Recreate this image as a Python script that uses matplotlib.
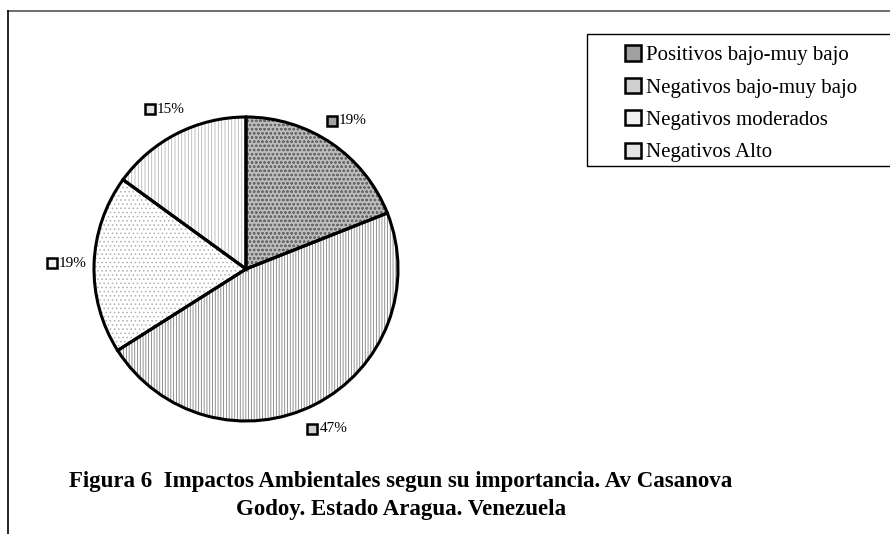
import matplotlib.pyplot as plt
from matplotlib.patches import Patch, Rectangle
from matplotlib.lines import Line2D
from matplotlib.transforms import offset_copy

# data
categories = ["Positivos bajo-muy bajo", "Negativos bajo-muy bajo",
              "Negativos moderados", "Negativos Alto"]
values = [19, 47, 19, 15]
pct_labels = ["19%", "47%", "19%", "15%"]

# fill styles per slice
faces = ["#bdbdbd", "#ffffff", "#ffffff", "#ffffff"]
hatch_cols = ["#6a6a6a", "#808080", "#b0b0b0", "#b8b8b8"]
hatches = ["oooo", "||||||", "....", "|||||"]
key_faces = ["#a0a0a0", "#d0d0d0", "#f0f0f0", "#e4e4e4"]

plt.rcParams["font.family"] = ["Liberation Serif", "DejaVu Serif"]
plt.rcParams["hatch.linewidth"] = 0.6

W, H = 890, 534
fig = plt.figure(figsize=(W / 100, H / 100), dpi=100)
fig.patch.set_facecolor("white")

# pie axes: centre ~ (246, 269) px, radius ~152 px
cx, cy, r = 246, 269, 152
ax = fig.add_axes([(cx - r) / W, (H - cy - r) / H, 2 * r / W, 2 * r / H])
ax.axis("off")

# hatched fill (hatch colour follows edgecolor, so outlines drawn separately)
wedges, texts = ax.pie(values, startangle=90, counterclock=False, radius=1,
                       labels=pct_labels, labeldistance=1.18,
                       textprops=dict(fontsize=11, ha="center", va="center"))
for w, fc, hc, h in zip(wedges, faces, hatch_cols, hatches):
    w.set_facecolor(fc)
    w.set_edgecolor(hc)
    w.set_hatch(h)
    w.set_linewidth(0)

# black outlines
ax.pie(values, startangle=90, counterclock=False, radius=1,
       wedgeprops=dict(fill=False, edgecolor="black", linewidth=2.2))
ax.set_xlim(-1, 1)
ax.set_ylim(-1, 1)
ax.set_aspect("equal")

# shift label text right so marker + text is centred, add square keys
for t, kf in zip(texts, key_faces):
    x, y = t.get_position()
    t.set_transform(offset_copy(ax.transData, fig=fig, x=6, y=0, units="dots"))
    tr = offset_copy(ax.transData, fig=fig, x=-15, y=0, units="dots")
    ax.plot(x, y, marker="s", markersize=7, markerfacecolor=kf,
            markeredgecolor="black", markeredgewidth=1.8,
            transform=tr, clip_on=False)

# legend
handles = [Patch(facecolor=kf, edgecolor="black", linewidth=1.8) for kf in key_faces]
leg = fig.legend(handles, categories, loc="upper left",
                 bbox_to_anchor=(617 / W, 1 - 37 / H), frameon=False,
                 fontsize=15, handlelength=0.75, handleheight=0.75,
                 handletextpad=0.25, labelspacing=0.6, borderaxespad=0)
fig.add_artist(Rectangle((587 / W, 1 - 166 / H), (W + 10 - 587) / W, 132 / H,
                         transform=fig.transFigure, fill=False,
                         edgecolor="black", linewidth=1.0, clip_on=False))

# outer frame (top and left only)
fig.add_artist(Line2D([8 / W, 1], [1 - 11 / H, 1 - 11 / H],
                      transform=fig.transFigure, color="#555555", linewidth=1.2))
fig.add_artist(Line2D([8 / W, 8 / W], [0, 1 - 11 / H],
                      transform=fig.transFigure, color="black", linewidth=1.2))

# caption
fig.text(401 / W, 1 - 481 / H,
         "Figura 6  Impactos Ambientales segun su importancia. Av Casanova",
         ha="center", va="center", fontsize=16.5, fontweight="bold")
fig.text(401 / W, 1 - 510 / H, "Godoy. Estado Aragua. Venezuela",
         ha="center", va="center", fontsize=16.5, fontweight="bold")

fig.savefig("out.png", dpi=100, facecolor="white")
